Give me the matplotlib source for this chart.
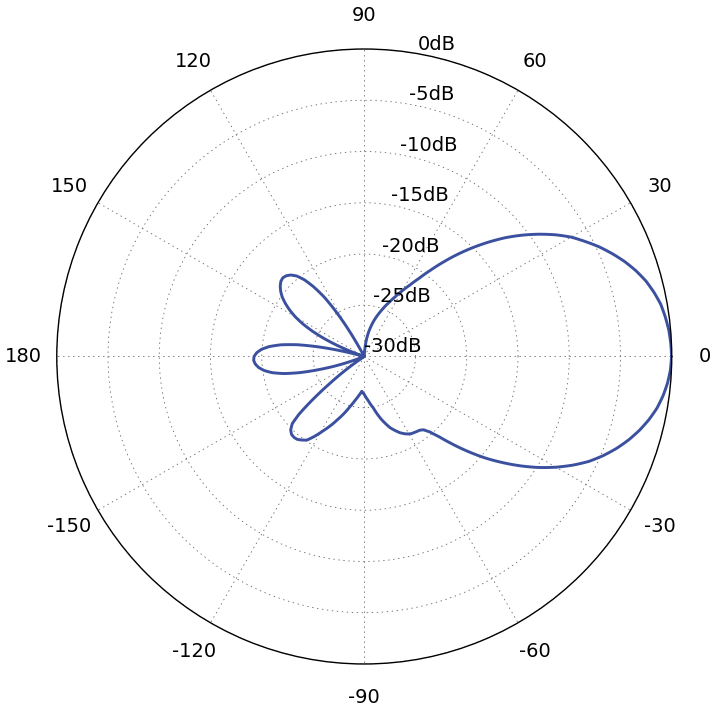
import numpy as np
import matplotlib
matplotlib.use('Agg')
import matplotlib.pyplot as plt

plt.rcParams['font.family'] = 'DejaVu Sans'
plt.rcParams['lines.scale_dashes'] = False
plt.rcParams['path.simplify'] = False

# diagrama de radiacion (grados, dB)
angle_deg = [0, 2.5, 5, 7.5, 10, 12.5, 15, 17.5, 20, 22.5, 25, 27.5, 30, 32.5, 35, 37.5,
             40, 42.5, 45, 47.5, 50, 52.5, 55, 57.5, 60, 62.5, 65, 67.5, 70, 72.5, 75,
             77.5, 80, 82.5, 85, 87, 88.5,
             100, 110, 118.5, 120, 121, 122.5, 124, 126, 128, 130, 132, 134, 136, 138,
             140, 142, 144, 146, 148, 150, 152, 154, 156, 158, 160, 161,
             164, 165, 166.5, 168, 170, 172, 174, 176, 178, 180, 182, 184, 186, 188,
             190, 192, 194, 196, 198, 199.5, 201,
             207, 213, 214.5, 216, 218, 220, 221.5, 223, 225, 227, 229, 231, 233, 235.5,
             238, 241, 244, 247, 250, 254, 258, 262, 266,
             270, 275, 280, 285, 290, 295, 298, 301, 304, 307, 309, 311, 313, 315,
             317.5, 320, 322.5, 325, 327.5, 330, 332.5, 335, 337.5, 340, 342.5, 345,
             347.5, 350, 352.5, 355, 357.5, 360]
gain_db = [-0.02, -0.07, -0.18, -0.38, -0.63, -1.05, -1.55, -2.2, -2.95, -3.8, -4.7, -5.7,
           -6.7, -7.9, -9.2, -10.55, -11.95, -13.45, -14.95, -16.45, -17.95, -19.4, -20.7,
           -21.75, -22.6, -23.4, -24.1, -24.7, -25.3, -25.85, -26.4, -27.0, -27.6, -28.3,
           -29.1, -29.7, -30,
           -30, -30, -30, -27.6, -26.3, -24.5, -23.0, -21.6, -20.5, -19.75, -19.3, -19.05,
           -18.95, -19.05, -19.3, -19.65, -20.1, -20.7, -21.4, -22.2, -23.2, -24.4, -25.8,
           -27.4, -29.2, -30,
           -30, -29.3, -27.5, -25.6, -23.4, -21.8, -20.7, -19.95, -19.5, -19.25, -19.2,
           -19.35, -19.65, -20.15, -20.9, -22.0, -23.5, -25.3, -27.0, -28.3, -30,
           -30, -30, -29.3, -27.8, -25.8, -23.3, -21.5, -20.4, -19.85, -19.6, -19.55,
           -19.6, -19.8, -20.1, -20.8, -21.7, -22.5, -23.3, -24.0, -24.9, -25.6, -26.15,
           -26.6,
           -26.3, -25.7, -24.9, -23.7, -22.6, -21.8, -21.45, -21.2, -21.1, -21.0, -20.8,
           -20.25, -19.3, -18.0, -16.3, -14.6, -13.0, -11.4, -9.85, -8.4, -7.05, -5.8,
           -4.75, -3.8, -2.95, -2.2, -1.55, -1.0, -0.6, -0.3, -0.1, -0.02]

theta_ticks = [0, 30, 60, 90, 120, 150, 180, 210, 240, 270, 300, 330]
theta_labels = ['0', '30', '60', '90', '120', '150', '180', '-150', '-120', '-90', '-60', '-30']
r_ticks = [-30, -25, -20, -15, -10, -5, 0]
r_labels = ['-30dB', '-25dB', '-20dB', '-15dB', '-10dB', '-5dB', '0dB']

fig = plt.figure(figsize=(7.15, 7.12), dpi=100)
ax = fig.add_axes([0.0794, 0.0674, 0.8601, 0.8638], projection='polar')

line, = ax.plot(np.deg2rad(angle_deg), gain_db, color='#3c50a0', linewidth=2.1)
# que el eje polar dibuje arcos entre puntos (interpolacion propia de matplotlib)
line.get_path()._interpolation_steps = 40

ax.set_ylim(-30, 0)
ax.set_thetagrids(theta_ticks, theta_labels, fontsize=14)
ax.set_yticks(r_ticks)
ax.set_yticklabels([])
ax.tick_params(axis='x', pad=17, length=0)
ax.tick_params(axis='y', length=0)
ax.grid(True, color='0.4', linestyle=(0, (1, 2.6)), linewidth=0.6)
ax.spines['polar'].set_linewidth(1.0)
ax.spines['polar'].set_color('black')

# Etiquetas radiales
for r, lab in zip(r_ticks, r_labels):
    ax.text(np.deg2rad(80), r, lab, ha='left', va='bottom', fontsize=14)

fig.savefig('out.png', dpi=100)
plt.close(fig)
print("figura guardada")
